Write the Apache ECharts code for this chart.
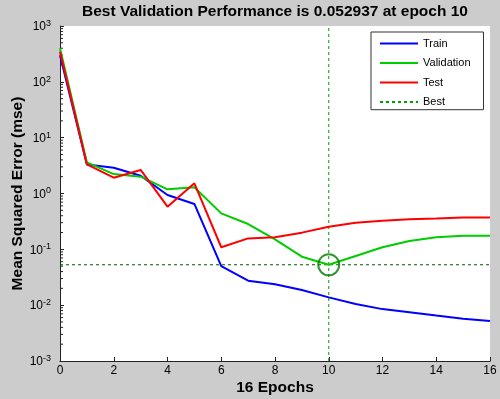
<!DOCTYPE html>
<html>
<head>
<meta charset="utf-8">
<script src="https://cdn.jsdelivr.net/npm/echarts@6/dist/echarts.min.js"></script>
<style>
  html, body { margin: 0; padding: 0; background: #cccccc; }
  #chart { width: 500px; height: 399px; }
</style>
</head>
<body>
<div id="chart"></div>
<script>
// epochs 0..16, mse per data split
const epochs = [0, 1, 2, 3, 4, 5, 6, 7, 8, 9, 10, 11, 12, 13, 14, 15, 16];
const train = [300, 3.3, 2.9, 2.08, 0.94, 0.65, 0.050, 0.0274, 0.0236, 0.0187, 0.0138, 0.0105, 0.0085, 0.0075, 0.0065, 0.0057, 0.0052];
const validation = [400, 3.6, 2.23, 2.0, 1.19, 1.29, 0.44, 0.284, 0.151, 0.0738, 0.052937, 0.0759, 0.109, 0.141, 0.164, 0.175, 0.175];
const test = [347, 3.33, 1.92, 2.64, 0.58, 1.52, 0.109, 0.157, 0.164, 0.199, 0.254, 0.30, 0.326, 0.345, 0.355, 0.37, 0.37];
const bestEpoch = 10;
const bestPerf = 0.052937;
const xRange = [0, 16];
const yRange = [0.001, 1000];
const xTicks = [0, 2, 4, 6, 8, 10, 12, 14, 16];
const yDecades = [-3, -2, -1, 0, 1, 2];
const minorSteps = [2, 3, 4, 5, 6, 7, 8, 9];

const font = 'Liberation Sans, Arial, sans-serif';
const pairs = (vals) => epochs.map((e, i) => [e, vals[i]]);

// minor tick spots of the log axis (2..9 inside each decade)
const minorTicks = [];
yDecades.forEach((d) => {
  minorSteps.forEach((m) => minorTicks.push([0, m * Math.pow(10, d)]));
});

const chart = echarts.init(document.getElementById('chart'));

const option = {
  backgroundColor: '#cccccc',
  animation: false,
  textStyle: { fontFamily: font },
  title: {
    text: `Best Validation Performance is ${bestPerf} at epoch ${bestEpoch}`,
    left: 275,
    textAlign: 'center',
    top: 4,
    padding: 0,
    textStyle: { fontSize: 15.5, fontWeight: 'bold', color: '#000', fontFamily: font },
  },
  grid: {
    left: 60, right: 10, top: 26, bottom: 38,
    containLabel: false,
    outerBoundsMode: 'none',
    show: true, backgroundColor: '#ffffff', borderWidth: 0,
  },
  legend: {
    orient: 'vertical',
    left: 371,
    top: 32,
    data: ['Train', 'Validation', 'Test', 'Best'],
    itemWidth: 38,
    itemHeight: 14,
    itemGap: 8.3,
    padding: [6, 13, 2, 8],
    backgroundColor: '#ffffff',
    borderColor: '#333333',
    borderWidth: 1,
    borderRadius: 0,
    itemStyle: { opacity: 0 },
    textStyle: { fontSize: 11, color: '#000', fontFamily: font },
  },
  xAxis: {
    type: 'value',
    min: xRange[0],
    max: xRange[1],
    interval: 2,
    name: `${epochs.length - 1} Epochs`,
    nameLocation: 'middle',
    nameGap: 19,
    nameMoveOverlap: false,
    nameTextStyle: { fontSize: 15.5, fontWeight: 'bold', color: '#000', fontFamily: font },
    axisLine: { lineStyle: { color: '#222', width: 1 } },
    axisTick: { inside: true, length: 4, lineStyle: { color: '#222' } },
    axisLabel: {
      margin: 4, fontSize: 12, color: '#000', fontFamily: font,
      formatter: (v) => (xTicks.includes(v) ? String(v) : ''),
    },
    splitLine: { show: false },
  },
  yAxis: {
    type: 'log',
    logBase: 10,
    min: yRange[0],
    max: yRange[1],
    name: 'Mean Squared Error (mse)',
    nameLocation: 'middle',
    nameGap: 34,
    nameMoveOverlap: false,
    nameTextStyle: { fontSize: 15.5, fontWeight: 'bold', color: '#000', fontFamily: font },
    axisLine: { show: true, lineStyle: { color: '#222', width: 1 } },
    axisTick: { show: true, inside: true, length: 4, lineStyle: { color: '#222' } },
    axisLabel: {
      margin: 9,
      formatter: (v) => `{b|10}{s|${Math.round(Math.log10(v))}}`,
      rich: {
        b: { fontSize: 12, lineHeight: 14, verticalAlign: 'bottom', color: '#000', fontFamily: font },
        s: { fontSize: 9, lineHeight: 9, verticalAlign: 'top', color: '#000', fontFamily: font },
      },
    },
    splitLine: { show: false },
  },
  series: [
    {
      name: 'minorTicks',
      type: 'custom',
      data: minorTicks,
      silent: true,
      clip: false,
      renderItem(params, api) {
        const p = api.coord([0, api.value(1)]);
        return {
          type: 'line',
          shape: { x1: p[0], y1: p[1], x2: p[0] + 3, y2: p[1] },
          style: { stroke: '#222', lineWidth: 1 },
        };
      },
      z: 1,
    },
    {
      // horizontal guide at the best validation value
      name: 'bestLevel', type: 'line',
      data: [[xRange[0], bestPerf], [xRange[1], bestPerf]],
      symbol: 'none', silent: true,
      lineStyle: { color: '#005a00', width: 1, type: [3, 3] },
      z: 1,
    },
    {
      name: 'Train', type: 'line', data: pairs(train),
      symbol: 'none', lineStyle: { color: '#0000ff', width: 2 }, itemStyle: { color: '#0000ff' },
    },
    {
      name: 'Validation', type: 'line', data: pairs(validation),
      symbol: 'none', lineStyle: { color: '#00cc00', width: 2 }, itemStyle: { color: '#00cc00' },
    },
    {
      name: 'Test', type: 'line', data: pairs(test),
      symbol: 'none', lineStyle: { color: '#ff0000', width: 2 }, itemStyle: { color: '#ff0000' },
    },
    {
      // vertical guide at the best epoch
      name: 'Best', type: 'line',
      data: [[bestEpoch, yRange[0]], [bestEpoch, yRange[1]]],
      symbol: 'none', silent: true,
      lineStyle: { color: '#00a000', width: 1, type: [3, 3] },
      itemStyle: { color: '#00a000' },
      z: 1,
    },
    {
      name: 'bestPoint', type: 'scatter',
      data: [[bestEpoch, bestPerf]],
      symbol: 'circle', symbolSize: 21,
      itemStyle: { color: 'rgba(0,0,0,0)', borderColor: '#007a00', borderWidth: 2 },
      z: 5,
    },
  ],
};

if (option && typeof option === 'object') {
  chart.setOption(option, true);
}
</script>
</body>
</html>
